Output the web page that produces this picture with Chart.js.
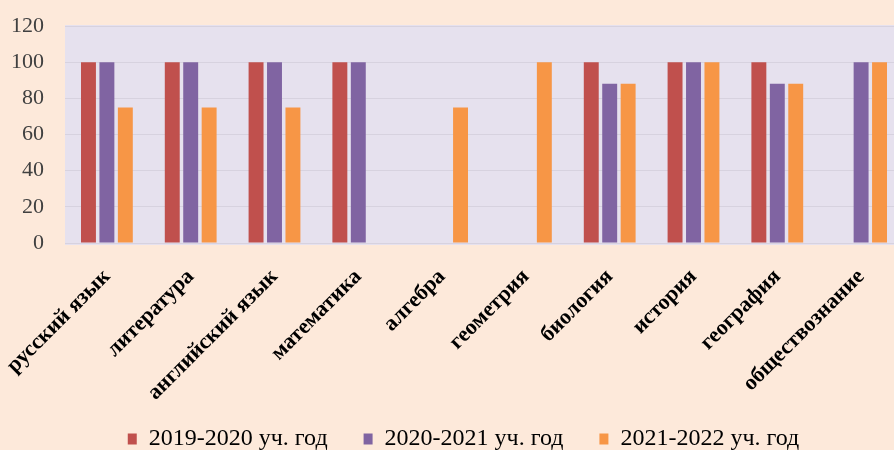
<!DOCTYPE html>
<html>
<head>
<meta charset="utf-8">
<script src="https://cdn.jsdelivr.net/npm/chart.js@4"></script>
<style>
  html, body { margin: 0; padding: 0; background: #FDE9DA; overflow: hidden; }
  #wrap { width: 903px; height: 450px; }
</style>
</head>
<body>
<div id="wrap"><canvas id="chart" width="903" height="450"></canvas></div>
<script>
// предметы
const categories = [
  "русский язык", "литература", "английский язык", "математика", "алгебра",
  "геометрия", "биология", "история", "география", "обществознание"
];
const seriesNames = ["2019-2020 уч. год", "2020-2021 уч. год", "2021-2022 уч. год"];
const y2019 = [100, 100, 100, 100, 0, 0, 100, 100, 100, 0];
const y2020 = [100, 100, 100, 100, 0, 0, 88, 100, 88, 100];
const y2021 = [75, 75, 75, 0, 75, 100, 88, 100, 88, 100];
const yTicks = [0, 20, 40, 60, 80, 100, 120];

const colors = ["#C0504D", "#8064A2", "#F79646"];
const serif = "'Liberation Serif', 'Times New Roman', serif";
const CHART_BOTTOM = 243;

// фон области построения + сдвиг легенды
const plotBg = {
  id: "plotBg",
  afterLayout(c) {
    const lg = c.legend;
    lg.left += 12; lg.right += 12;
    lg.top += 11; lg.bottom += 11;
    c.scales.x.bottom = c.height; // чтобы подписи не обрезались
  },
  beforeDraw(c) {
    const a = c.chartArea, ctx = c.ctx;
    ctx.save();
    ctx.fillStyle = "#E6E1EE";
    ctx.fillRect(a.left, a.top - 1, a.right - a.left, a.bottom - a.top + 3);
    ctx.restore();
  }
};

const datasets = [y2019, y2020, y2021].map((d, i) => ({
  label: seriesNames[i],
  data: d,
  backgroundColor: colors[i],
  borderWidth: 0,
  categoryPercentage: 0.66,
  barPercentage: 0.81
}));

new Chart(document.getElementById("chart"), {
  type: "bar",
  data: { labels: categories, datasets },
  plugins: [plotBg],
  options: {
    responsive: false,
    animation: false,
    layout: { padding: { left: 0, right: 0, top: 26, bottom: 0 } },
    plugins: {
      tooltip: { enabled: false },
      legend: {
        position: "bottom",
        labels: {
          font: { family: serif, size: 24 },
          color: "#222",
          boxWidth: 9,
          boxHeight: 11,
          padding: 36,
          generateLabels(c) {
            return c.data.datasets.map((ds, i) => ({
              text: ds.label, fillStyle: colors[i], strokeStyle: colors[i],
              lineWidth: 0, datasetIndex: i, hidden: false
            }));
          }
        }
      }
    },
    scales: {
      x: {
        grid: { display: false },
        border: { display: false },
        ticks: {
          font: { family: serif, size: 22, weight: "bold" },
          color: "#000",
          minRotation: 45,
          maxRotation: 45,
          padding: 13
        },
        afterFit(s) {
          s.paddingLeft = 0;
          s.paddingRight = 0;
          s.height = s.chart.height - CHART_BOTTOM - s.chart.legend.height;
        }
      },
      y: {
        min: 0,
        max: 120,
        afterBuildTicks(s) { s.ticks = yTicks.map(v => ({ value: v })); },
        grid: { color: "#D7D2DF", drawTicks: false },
        border: { display: false },
        ticks: {
          font: { family: serif, size: 22 },
          color: "#404040",
          padding: 21
        },
        afterFit(s) {
          s.paddingTop = 0;
          s.paddingBottom = 0;
          s.width = 65;
        }
      }
    }
  }
});
</script>
</body>
</html>
